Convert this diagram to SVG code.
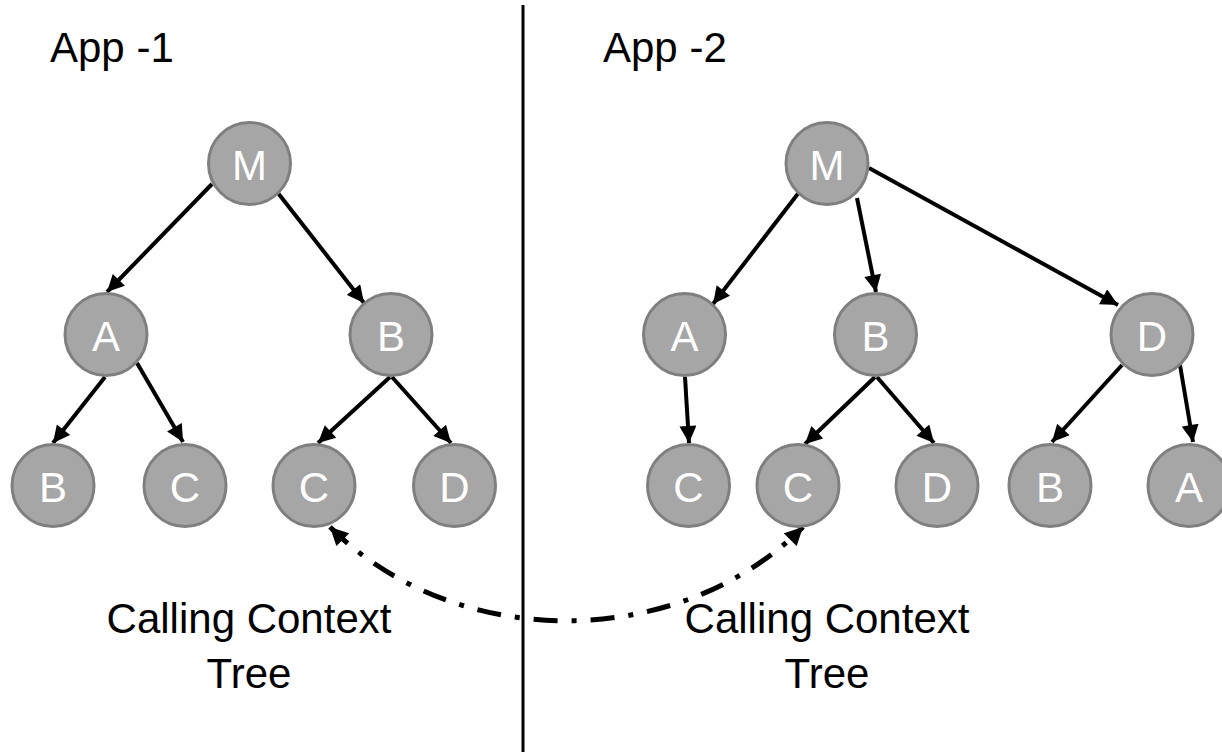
<svg xmlns="http://www.w3.org/2000/svg" width="1222" height="752" viewBox="0 0 1222 752">
<style>
.node circle{fill:#a6a6a6;stroke:#7f7f7f;stroke-width:3}
.node text{font-family:"Liberation Sans",Arial,sans-serif;font-size:42px;fill:#ffffff;text-anchor:middle}
.edge{stroke:#000;stroke-width:4;fill:none;marker-end:url(#arr)}
.title{font-family:"Liberation Sans",Arial,sans-serif;font-size:42px;fill:#000}
.cap{font-family:"Liberation Sans",Arial,sans-serif;font-size:42px;fill:#000;text-anchor:middle}
</style>
<defs>
<marker id="arr" viewBox="0 0 10 10" refX="10" refY="5" markerWidth="19" markerHeight="17" markerUnits="userSpaceOnUse" orient="auto">
<path d="M0,0 L10,5 L0,10 z" fill="#000"/>
</marker>
<marker id="arr2" viewBox="0 0 10 10" refX="10" refY="5" markerWidth="20" markerHeight="18" markerUnits="userSpaceOnUse" orient="auto-start-reverse">
<path d="M0,0 L10,5 L0,10 z" fill="#000"/>
</marker>
</defs>
<rect width="1222" height="752" fill="#fff"/>
<line x1="523" y1="5" x2="523" y2="752" stroke="#000" stroke-width="3"/>
<text class="title" x="50" y="62">App -1</text>
<text class="title" x="603" y="62">App -2</text>
<g id="connectors">
<line class="edge" x1="212" y1="184" x2="107" y2="292"/>
<line class="edge" x1="278" y1="193" x2="364" y2="303"/>
<line class="edge" x1="105" y1="377" x2="53" y2="443"/>
<line class="edge" x1="137" y1="363" x2="183" y2="442"/>
<line class="edge" x1="390" y1="377" x2="318" y2="443"/>
<line class="edge" x1="392" y1="377" x2="451" y2="443"/>
<line class="edge" x1="800" y1="191" x2="713" y2="304"/>
<line class="edge" x1="857" y1="198" x2="876" y2="292"/>
<line class="edge" x1="869" y1="168" x2="1118" y2="305"/>
<line class="edge" x1="685" y1="377" x2="689" y2="443"/>
<line class="edge" x1="875" y1="377" x2="805" y2="444"/>
<line class="edge" x1="877" y1="377" x2="934" y2="443"/>
<line class="edge" x1="1122" y1="365" x2="1052" y2="442"/>
<line class="edge" x1="1180" y1="365" x2="1193" y2="442"/>
<path d="M330,527 C455,652 678,652 803,527" fill="none" stroke="#000" stroke-width="5" stroke-dasharray="24 14 5 14" marker-start="url(#arr2)" marker-end="url(#arr2)"/>
</g>
<g id="L_M" class="node"><circle cx="249.5" cy="163.5" r="41"/><text x="249.5" y="179.5">M</text></g>
<g id="L_A" class="node"><circle cx="106" cy="334.5" r="41"/><text x="106" y="350.5">A</text></g>
<g id="L_B" class="node"><circle cx="391" cy="334.5" r="41"/><text x="391" y="350.5">B</text></g>
<g id="L_B2" class="node"><circle cx="53" cy="485.5" r="41"/><text x="53" y="501.5">B</text></g>
<g id="L_C1" class="node"><circle cx="185" cy="485.5" r="41"/><text x="185" y="501.5">C</text></g>
<g id="L_C2" class="node"><circle cx="314" cy="485.5" r="41"/><text x="314" y="501.5">C</text></g>
<g id="L_D" class="node"><circle cx="454.5" cy="485.5" r="41"/><text x="454.5" y="501.5">D</text></g>
<g id="R_M" class="node"><circle cx="827" cy="163.5" r="41"/><text x="827" y="179.5">M</text></g>
<g id="R_A" class="node"><circle cx="684.5" cy="334.5" r="41"/><text x="684.5" y="350.5">A</text></g>
<g id="R_B" class="node"><circle cx="875.5" cy="334.5" r="41"/><text x="875.5" y="350.5">B</text></g>
<g id="R_D" class="node"><circle cx="1152" cy="334.5" r="41"/><text x="1152" y="350.5">D</text></g>
<g id="R_C1" class="node"><circle cx="688.5" cy="485.5" r="41"/><text x="688.5" y="501.5">C</text></g>
<g id="R_C2" class="node"><circle cx="798" cy="485.5" r="41"/><text x="798" y="501.5">C</text></g>
<g id="R_D2" class="node"><circle cx="937" cy="485.5" r="41"/><text x="937" y="501.5">D</text></g>
<g id="R_B2" class="node"><circle cx="1050" cy="485.5" r="41"/><text x="1050" y="501.5">B</text></g>
<g id="R_A2" class="node"><circle cx="1189" cy="485.5" r="41"/><text x="1189" y="501.5">A</text></g>
<text class="cap" x="249" y="633">Calling Context</text>
<text class="cap" x="249" y="688">Tree</text>
<text class="cap" x="827" y="633">Calling Context</text>
<text class="cap" x="827" y="688">Tree</text>
</svg>
